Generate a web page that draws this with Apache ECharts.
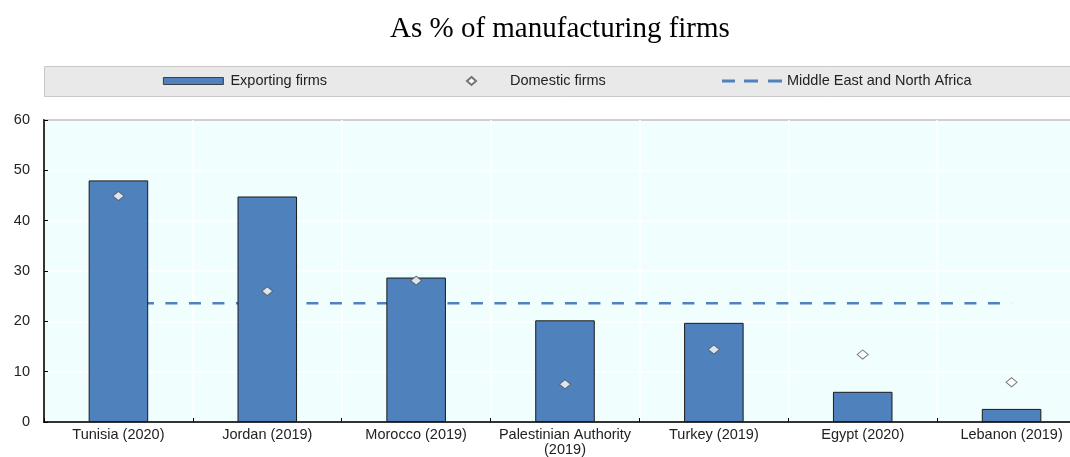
<!DOCTYPE html>
<html>
<head>
<meta charset="utf-8">
<script src="https://cdn.jsdelivr.net/npm/echarts@6/dist/echarts.min.js"></script>
<style>
  html, body { margin: 0; padding: 0; background: #fff; overflow: hidden; }
  /* plot runs a bit past the right edge of the picture, like the original */
  #main { width: 1086px; height: 457px; }
</style>
</head>
<body>
<div id="main"></div>
<script>
// categories along the x axis
var categories = ['Tunisia (2020)', 'Jordan (2019)', 'Morocco (2019)', 'Palestinian Authority\n(2019)',
    'Turkey (2019)', 'Egypt (2020)', 'Lebanon (2019)']
// values, % of manufacturing firms
var exportingFirms = [48.0, 44.8, 28.7, 20.2, 19.7, 6.0, 2.6]
var domesticFirms = [44.9, 26.0, 28.1, 7.5, 14.4, 13.4, 7.9]
var menaAverage = [23.6, 23.6, 23.6, 23.6, 23.6, 23.6, 23.6]
var yTicks = { min: 0, max: 60, interval: 10 }

var font = '"Liberation Sans", Arial, sans-serif'
var blue = '#4f81bd'
var myChart = echarts.init(document.getElementById('main'))

var option = {
    animation: false,
    title: {
        text: 'As % of manufacturing firms',
        left: 385,
        top: 10,
        textStyle: { fontFamily: '"Liberation Serif", "Times New Roman", serif', fontSize: 29, fontWeight: 'normal', color: '#000' }
    },
    graphic: [{
        type: 'rect',
        shape: { x: 44.5, y: 66.5, width: 1060, height: 30 },
        style: { fill: '#e9e9e9', stroke: '#c8c8c8', lineWidth: 1 },
        z: -10
    }],
    // three legends so each icon gets its own size and place
    legend: [{
        data: [{ name: 'Exporting firms', icon: 'rect' }],
        left: 163, top: 73, padding: 0,
        itemWidth: 60, itemHeight: 7,
        itemStyle: { borderWidth: 0.8, borderColor: '#222' },
        textStyle: { fontFamily: font, fontSize: 14.5, color: '#222', lineHeight: 16, padding: [0, 0, 0, 2] }
    }, {
        data: [{ name: 'Domestic firms', icon: 'diamond' }],
        left: 466, top: 73, padding: 0,
        itemWidth: 9, itemHeight: 8,
        textStyle: { fontFamily: font, fontSize: 14.5, color: '#222', lineHeight: 16, padding: [0, 0, 0, 29] }
    }, {
        data: [{ name: 'Middle East and North Africa', icon: 'path://M0,0h13v3h-13zM22,0h14v3h-14zM46,0h14v3h-14z' }],
        left: 722, top: 73, padding: 0,
        itemWidth: 60, itemHeight: 3,
        textStyle: { fontFamily: font, fontSize: 14.5, color: '#222', lineHeight: 16 }
    }],
    grid: {
        left: 44, right: 0, top: 120, bottom: 22,
        show: true,
        backgroundColor: '#f0fefe',
        borderColor: '#000', borderWidth: 1.5
    },
    xAxis: {
        type: 'category',
        data: categories,
        boundaryGap: true,
        axisLine: { lineStyle: { color: '#000', width: 1.5 } },
        axisTick: { show: true, inside: true, length: 4, lineStyle: { color: '#000' } },
        axisLabel: { fontFamily: font, fontSize: 14.5, color: '#222', margin: 5, lineHeight: 15, interval: 0 },
        splitLine: { show: true, lineStyle: { color: '#ffffff', width: 1.5 } }
    },
    yAxis: {
        type: 'value',
        min: yTicks.min, max: yTicks.max, interval: yTicks.interval,
        axisLine: { show: true, lineStyle: { color: '#000', width: 1.5 } },
        axisTick: { show: true, inside: true, length: 4, lineStyle: { color: '#000' } },
        axisLabel: { fontFamily: font, fontSize: 14.5, color: '#222', margin: 14 },
        splitLine: { show: true, lineStyle: { color: '#ffffff', width: 1.5 } }
    },
    series: [{
        name: 'Middle East and North Africa',
        type: 'line',
        data: menaAverage,
        symbol: 'none',
        z: 1,
        lineStyle: { color: blue, width: 2.5, type: [12, 11.5] },
        itemStyle: { color: blue }
    }, {
        name: 'Exporting firms',
        type: 'bar',
        data: exportingFirms,
        barWidth: '40%',
        z: 2,
        itemStyle: { color: blue, borderColor: '#1a1a1a', borderWidth: 1 }
    }, {
        name: 'Domestic firms',
        type: 'scatter',
        data: domesticFirms,
        symbol: 'diamond',
        symbolSize: [11, 9],
        z: 3,
        itemStyle: { color: '#ffffff', borderColor: '#555', borderWidth: 1 }
    }]
}

myChart.setOption(option)
window.onresize = myChart.resize
</script>
</body>
</html>
